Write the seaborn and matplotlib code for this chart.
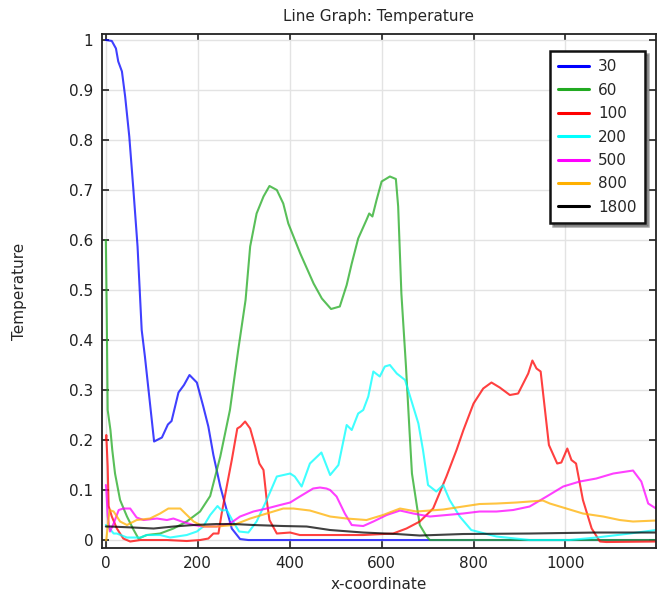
import numpy as np
import pandas as pd
import seaborn as sns
import matplotlib.pyplot as plt

# series (x-coordinate, temperature)
x_30 = [0, 13, 22, 27, 35, 42, 51, 60, 69, 78, 85, 105, 122, 135, 143, 158, 170, 182, 198, 212, 223, 234, 249, 259, 274, 292, 310, 600, 900, 1197]
y_30 = [1.0, 0.998, 0.983, 0.957, 0.937, 0.887, 0.807, 0.70, 0.587, 0.42, 0.367, 0.197, 0.205, 0.231, 0.238, 0.295, 0.31, 0.33, 0.315, 0.267, 0.227, 0.17, 0.107, 0.073, 0.023, 0.002, 0.0, 0.0, 0.0, 0.0]

x_60 = [0, 2, 4, 10, 14, 20, 31, 46, 60, 71, 89, 118, 147, 176, 205, 227, 249, 270, 288, 304, 314, 328, 343, 356, 372, 386, 397, 423, 452, 470, 490, 509, 524, 535, 549, 567, 573, 580, 589, 600, 618, 631, 636, 643, 653, 661, 666, 683, 698, 705, 900, 1197]
y_60 = [0.6, 0.45, 0.26, 0.22, 0.18, 0.133, 0.08, 0.047, 0.021, 0.003, 0.01, 0.013, 0.023, 0.037, 0.057, 0.088, 0.167, 0.26, 0.38, 0.48, 0.587, 0.653, 0.687, 0.708, 0.70, 0.673, 0.633, 0.573, 0.513, 0.483, 0.462, 0.467, 0.51, 0.553, 0.603, 0.64, 0.653, 0.647, 0.68, 0.717, 0.727, 0.722, 0.667, 0.493, 0.347, 0.213, 0.133, 0.03, 0.007, 0.0, 0.0, 0.0]

x_100 = [0, 1, 4, 6, 13, 24, 38, 53, 75, 133, 176, 205, 223, 234, 245, 252, 263, 274, 286, 293, 303, 314, 325, 334, 343, 350, 356, 372, 401, 422, 488, 560, 625, 654, 683, 712, 741, 763, 778, 800, 821, 839, 857, 879, 897, 908, 919, 928, 937, 946, 964, 982, 991, 1004, 1013, 1023, 1038, 1057, 1075, 1089, 1197]
y_100 = [0.2, 0.21, 0.147, 0.068, 0.047, 0.023, 0.003, -0.003, 0.0, 0.0, -0.002, 0.0, 0.003, 0.013, 0.013, 0.053, 0.107, 0.16, 0.223, 0.227, 0.237, 0.223, 0.187, 0.153, 0.14, 0.08, 0.04, 0.013, 0.015, 0.01, 0.01, 0.01, 0.013, 0.023, 0.037, 0.063, 0.127, 0.18, 0.22, 0.273, 0.303, 0.315, 0.305, 0.29, 0.293, 0.313, 0.333, 0.359, 0.343, 0.337, 0.19, 0.153, 0.155, 0.183, 0.16, 0.153, 0.08, 0.023, -0.003, -0.004, -0.003]

x_200 = [0, 8, 17, 24, 46, 75, 89, 118, 140, 176, 198, 212, 227, 243, 252, 263, 278, 290, 310, 328, 350, 372, 401, 411, 426, 444, 469, 488, 506, 524, 535, 549, 560, 571, 582, 596, 607, 618, 633, 651, 680, 690, 701, 719, 734, 748, 770, 795, 850, 922, 1009, 1067, 1140, 1197]
y_200 = [0.03, 0.023, 0.013, 0.013, 0.005, 0.005, 0.01, 0.01, 0.005, 0.01, 0.017, 0.027, 0.05, 0.068, 0.059, 0.06, 0.035, 0.017, 0.015, 0.037, 0.08, 0.127, 0.133, 0.127, 0.107, 0.153, 0.175, 0.13, 0.15, 0.23, 0.22, 0.253, 0.26, 0.287, 0.337, 0.327, 0.347, 0.35, 0.333, 0.32, 0.233, 0.18, 0.11, 0.097, 0.11, 0.08, 0.047, 0.02, 0.007, 0.0, 0.0, 0.005, 0.013, 0.02]

x_500 = [0, 1, 4, 9, 17, 28, 38, 53, 67, 82, 111, 133, 147, 165, 191, 212, 241, 270, 292, 321, 350, 379, 401, 422, 451, 466, 480, 488, 502, 520, 535, 560, 582, 611, 640, 669, 705, 741, 777, 813, 850, 886, 922, 959, 995, 1031, 1067, 1104, 1147, 1165, 1180, 1197]
y_500 = [0.11, 0.103, 0.048, 0.017, 0.033, 0.06, 0.063, 0.063, 0.045, 0.04, 0.043, 0.04, 0.043, 0.037, 0.03, 0.027, 0.027, 0.033, 0.047, 0.057, 0.063, 0.07, 0.075, 0.087, 0.103, 0.105, 0.103, 0.1, 0.087, 0.053, 0.03, 0.028, 0.037, 0.05, 0.059, 0.053, 0.047, 0.05, 0.053, 0.057, 0.057, 0.06, 0.067, 0.087, 0.107, 0.117, 0.123, 0.133, 0.139, 0.117, 0.073, 0.063]

x_800 = [0, 1, 8, 17, 31, 46, 67, 96, 118, 136, 162, 173, 191, 212, 241, 278, 314, 350, 386, 408, 444, 488, 524, 567, 603, 640, 676, 734, 777, 813, 850, 893, 951, 966, 1002, 1038, 1082, 1118, 1147, 1197]
y_800 = [0.0, 0.0, 0.06, 0.057, 0.037, 0.03, 0.04, 0.043, 0.053, 0.063, 0.063, 0.053, 0.037, 0.027, 0.027, 0.03, 0.043, 0.053, 0.063, 0.063, 0.059, 0.047, 0.043, 0.04, 0.05, 0.063, 0.057, 0.061, 0.067, 0.072, 0.073, 0.075, 0.079, 0.073, 0.063, 0.053, 0.047, 0.04, 0.037, 0.039]

x_1800 = [0, 9, 60, 104, 147, 191, 241, 278, 321, 386, 437, 488, 560, 633, 683, 777, 922, 1067, 1197]
y_1800 = [0.027, 0.027, 0.025, 0.023, 0.027, 0.03, 0.032, 0.032, 0.03, 0.028, 0.027, 0.02, 0.015, 0.012, 0.009, 0.012, 0.013, 0.015, 0.015]

labels = ['30', '60', '100', '200', '500', '800', '1800']
xs = [x_30, x_60, x_100, x_200, x_500, x_800, x_1800]
ys = [y_30, y_60, y_100, y_200, y_500, y_800, y_1800]
colors = ['#0000ff', '#22aa22', '#ff0000', '#00ffff', '#ff00ff', '#ffb000', '#000000']

# build one long table for seaborn
frames = []
for lab, x, y in zip(labels, xs, ys):
    frames.append(pd.DataFrame({'x': x, 'T': y, 'series': lab}))
df = pd.concat(frames, ignore_index=True)

sns.set_style('ticks')
plt.rcParams['font.family'] = ['DejaVu Sans']

fig = plt.figure(figsize=(6.57, 5.94), dpi=100)
ax = fig.add_axes([0.1548, 0.0774, 0.8437, 0.8654])

sns.lineplot(data=df, x='x', y='T', hue='series', hue_order=labels,
             palette=dict(zip(labels, colors)), estimator=None, sort=False,
             linewidth=1.5, alpha=0.75, ax=ax)

ax.set_xlim(-9, 1197)
ax.set_ylim(-0.016, 1.012)
ax.set_xticks([0, 200, 400, 600, 800, 1000])
ax.set_yticks(np.arange(0, 1.01, 0.1))
ax.set_yticklabels(['0', '0.1', '0.2', '0.3', '0.4', '0.5', '0.6', '0.7', '0.8', '0.9', '1'])
ax.grid(True, color='#e3e3e3', linewidth=1)
ax.set_axisbelow(True)
ax.tick_params(direction='in', length=5, width=1.2, top=True, right=True,
               labelsize=11, colors='#222222', pad=6)
for s in ax.spines.values():
    s.set_linewidth(1.3)
    s.set_color('#222222')

ax.set_xlabel('x-coordinate', fontsize=11, labelpad=4)
ax.set_ylabel('Temperature', fontsize=11, labelpad=30)
ax.set_title('Line Graph: Temperature', fontsize=11, pad=9)

leg = ax.legend(loc='upper right', bbox_to_anchor=(0.980, 0.967), frameon=True,
                fancybox=False, shadow=True, edgecolor='#111111', framealpha=1,
                fontsize=11, handlelength=2.0, handletextpad=0.6,
                borderpad=0.55, labelspacing=0.55, borderaxespad=0)
leg.get_frame().set_linewidth(1.8)
for line in leg.get_lines():
    line.set_linewidth(2.2)
    line.set_alpha(1)

plt.savefig('out.png', dpi=100)
